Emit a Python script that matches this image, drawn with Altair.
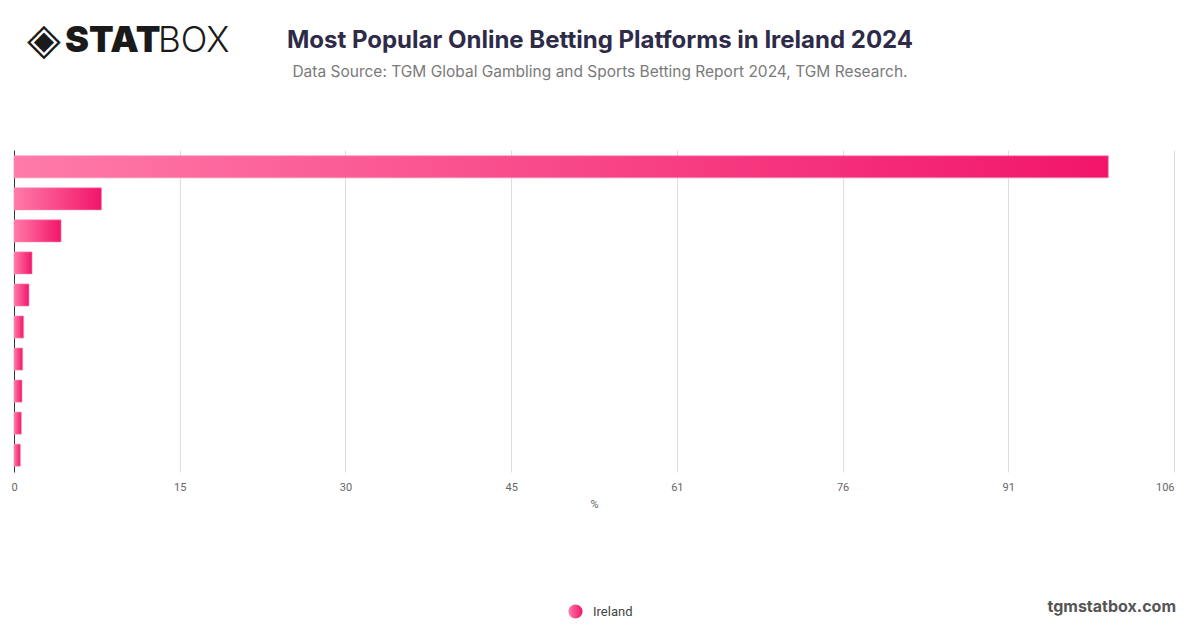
import altair as alt
import pandas as pd

# Data (categories are not labelled in the original)
platforms = ["Platform 1", "Platform 2", "Platform 3", "Platform 4", "Platform 5",
             "Platform 6", "Platform 7", "Platform 8", "Platform 9", "Platform 10"]
share = [100, 8.0, 4.3, 1.65, 1.37, 0.88, 0.79, 0.73, 0.67, 0.58]
country = ["Ireland"] * len(platforms)
x_max = 106
tick_values = [x_max * i / 7 for i in range(8)]

df = pd.DataFrame({"platform": platforms, "share": share, "country": country})

W, H = 1160, 322

bar_gradient = {
    "gradient": "linear",
    "x1": 0, "y1": 0, "x2": 1, "y2": 0,
    "stops": [
        {"offset": 0, "color": "#ff7ba9"},
        {"offset": 1, "color": "#f2156a"},
    ],
}

bars = alt.Chart(df).mark_bar(fill=bar_gradient, strokeWidth=1, strokeOpacity=0.6).encode(
    y=alt.Y("platform:N", sort=platforms,
            scale=alt.Scale(paddingInner=0.31, paddingOuter=0.18),
            axis=alt.Axis(title=None, labels=False, ticks=False, domain=True,
                          domainColor="#333333", domainWidth=1, grid=False)),
    x=alt.X("share:Q", scale=alt.Scale(domain=[0, x_max], nice=False),
            axis=alt.Axis(values=tick_values, labelExpr="format(round(datum.value), 'd')",
                          labelFlush=False,
                          labelAlign={"condition": {"test": "datum.value >= 105", "value": "right"},
                                      "value": "center"},
                          title="%", titleFontSize=11, titleFontWeight="normal",
                          titleColor="#666666", titlePadding=6, titleFont="Roboto",
                          labelFont="Roboto", labelFontSize=11, labelColor="#666666",
                          labelPadding=9, domain=False, ticks=False,
                          grid=True, gridColor="#dddddd", gridWidth=1)),
    stroke=alt.Stroke("country:N", scale=alt.Scale(range=["#fb8db5"]),
                      legend=alt.Legend(title=None, orient="none", legendX=554, legendY=454,
                                        symbolType="circle", symbolSize=200,
                                        symbolFillColor="#f53d80", symbolStrokeColor="#f53d80",
                                        symbolStrokeWidth=0,
                                        labelFont="Roboto", labelFontSize=13,
                                        labelColor="#444444", labelOffset=10)),
)

# Decorative texts (title, subtitle, logo, footer)
title_df = pd.DataFrame({"t": ["Most Popular Online Betting Platforms in Ireland 2024"]})
subtitle_df = pd.DataFrame({"t": ["Data Source: TGM Global Gambling and Sports Betting Report 2024, TGM Research."]})
logo_icon_df = pd.DataFrame({"t": ["◈"]})
logo_bold_df = pd.DataFrame({"t": ["STAT"]})
logo_light_df = pd.DataFrame({"t": ["BOX"]})
footer_df = pd.DataFrame({"t": ["tgmstatbox.com"]})

title = alt.Chart(title_df).mark_text(font="Inter", fontSize=24, fontWeight="bold",
                                      color="#2e2b48", align="center", baseline="middle").encode(
    text="t:N", x=alt.value(586), y=alt.value(-109))
subtitle = alt.Chart(subtitle_df).mark_text(font="Inter", fontSize=15.5, color="#7a7a7a",
                                            align="center", baseline="middle").encode(
    text="t:N", x=alt.value(586), y=alt.value(-78))
logo_icon = alt.Chart(logo_icon_df).mark_text(font="DejaVu Sans", fontSize=44, color="#1a1a1a",
                                              align="center", baseline="middle").encode(
    text="t:N", x=alt.value(30), y=alt.value(-109))
logo_bold = alt.Chart(logo_bold_df).mark_text(font="Inter", fontSize=36, fontWeight=900,
                                              color="#1a1a1a", align="left", baseline="middle").encode(
    text="t:N", x=alt.value(51), y=alt.value(-109))
logo_light = alt.Chart(logo_light_df).mark_text(font="Inter", fontSize=35, fontWeight=300,
                                                color="#1a1a1a", align="left", baseline="middle").encode(
    text="t:N", x=alt.value(144), y=alt.value(-109))
footer = alt.Chart(footer_df).mark_text(font="Inter", fontSize=16, fontWeight="bold",
                                        color="#555555", align="right", baseline="middle").encode(
    text="t:N", x=alt.value(1162), y=alt.value(457))

chart = alt.layer(bars, title, subtitle, logo_icon, logo_bold, logo_light, footer).properties(
    width=W, height=H,
    padding={"left": 6, "top": 142, "right": 18, "bottom": 148},
    autosize=alt.AutoSizeParams(type="none"),
    background="white",
).configure_view(stroke=None)

chart.save("out.html", embed_options={"renderer": "svg", "actions": False})
